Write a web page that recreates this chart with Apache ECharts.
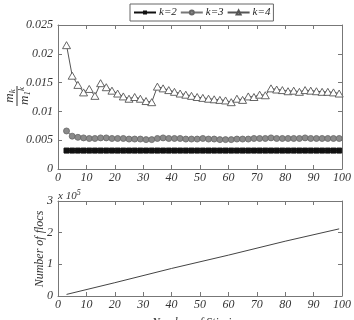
<!DOCTYPE html>
<html><head><meta charset="utf-8">
<script src="https://cdn.jsdelivr.net/npm/echarts@6/dist/echarts.min.js"></script>
<style>html,body{margin:0;padding:0;background:#fff}#c{width:354px;height:320px}</style>
</head><body><div id="c"></div>
<script>
const xs = [3,5,7,9,11,13,15,17,19,21,23,25,27,29,31,33,35,37,39,41,43,45,47,49,51,53,55,57,59,61,63,65,67,69,71,73,75,77,79,81,83,85,87,89,91,93,95,97,99];
const k2 = [0.0032,0.0032,0.0032,0.0032,0.0032,0.0032,0.0032,0.0032,0.0032,0.0032,0.0032,0.0032,0.0032,0.0032,0.0032,0.0032,0.0032,0.0032,0.0032,0.0032,0.0032,0.0032,0.0032,0.0032,0.0032,0.0032,0.0032,0.0032,0.0032,0.0032,0.0032,0.0032,0.0032,0.0032,0.0032,0.0032,0.0032,0.0032,0.0032,0.0032,0.0032,0.0032,0.0032,0.0032,0.0032,0.0032,0.0032,0.0032,0.0032];
const k3 = [0.0066,0.0057,0.0055,0.0054,0.0053,0.0053,0.0054,0.0054,0.0053,0.0053,0.0053,0.0052,0.0052,0.0052,0.0051,0.0051,0.0053,0.0054,0.0053,0.0053,0.0053,0.0052,0.0052,0.0052,0.0053,0.0052,0.0052,0.0051,0.0051,0.0051,0.0052,0.0052,0.0052,0.0053,0.0053,0.0053,0.0054,0.0053,0.0053,0.0053,0.0053,0.0053,0.0054,0.0053,0.0053,0.0053,0.0053,0.0053,0.0053];
const k4 = [0.0215,0.0162,0.0146,0.0133,0.0139,0.0127,0.0149,0.0142,0.0136,0.0131,0.0126,0.0122,0.0125,0.0122,0.0118,0.0116,0.0143,0.0140,0.0137,0.0134,0.0131,0.0129,0.0127,0.0125,0.01235,0.0122,0.0121,0.0120,0.0119,0.0116,0.0122,0.0120,0.0126,0.0125,0.0129,0.0128,0.0140,0.0138,0.0137,0.0135,0.0136,0.0134,0.0137,0.0136,0.0135,0.0134,0.0134,0.0133,0.0131];
const flocX = [3,20,40,60,80,99];
const flocY = [0.05,0.42,0.87,1.29,1.73,2.12];
const seriesNames = ['k=2','k=3','k=4'];
const xLabel = 'Number of Stirrings';
const flocLabel = 'Number of flocs';

const FONT = 'Liberation Serif';
const lab = {fontFamily: FONT, fontStyle: 'italic', fontSize: 12, color: '#333'};
const axisCol = '#777';
function pair(a, b){ return a.map((v,i)=>[v,b[i]]); }

function xAx(gi, main){
  return {type:'value', gridIndex:gi, min:0, max:100, interval:10, position: main?'bottom':'top',
    axisLine:{show:true, onZero:false, lineStyle:{color:axisCol}},
    axisTick:{show:true, inside:true, length:4, lineStyle:{color:axisCol}},
    axisLabel:{show:main, margin:3, ...lab}, splitLine:{show:false}};
}
function yAx(gi, main, max, interval){
  return {type:'value', gridIndex:gi, min:0, max:max, interval:interval, position: main?'left':'right',
    axisLine:{show:true, onZero:false, lineStyle:{color:axisCol}},
    axisTick:{show:true, inside:true, length:4, lineStyle:{color:axisCol}},
    axisLabel:{show:main, margin:5, ...lab, formatter: v => String(+v.toFixed(4))}, splitLine:{show:false}};
}

const chart = echarts.init(document.getElementById('c'), null, {renderer:'canvas'});
chart.setOption({
  animation:false,
  backgroundColor:'#fff',
  grid:[
    {left:58, top:25, width:285, height:144},
    {left:58, top:201, width:285, height:95}
  ],
  legend:{
    left:130, top:4, orient:'horizontal', itemWidth:22, itemHeight:5, itemGap:3,
    padding:[3,3,3,3], borderColor:'#666', borderWidth:1, borderRadius:0, backgroundColor:'#fff',
    textStyle:{...lab, fontSize:11, color:'#222', padding:[0,0,0,-2]}, data:seriesNames
  },
  xAxis:[xAx(0,true), xAx(0,false), xAx(1,true), xAx(1,false)],
  yAxis:[yAx(0,true,0.025,0.005), yAx(0,false,0.025,0.005), yAx(1,true,3,1), yAx(1,false,3,1)],
  series:[
    {name:seriesNames[0], type:'line', xAxisIndex:0, yAxisIndex:0, data:pair(xs,k2),
      symbol:'rect', symbolSize:5, lineStyle:{color:'#111', width:1}, itemStyle:{color:'#111', borderColor:'#111'}},
    {name:seriesNames[1], type:'line', xAxisIndex:0, yAxisIndex:0, data:pair(xs,k3),
      symbol:'circle', symbolSize:6, lineStyle:{color:'#777', width:1}, itemStyle:{color:'#8a8a8a', borderColor:'#666', borderWidth:0.8}},
    {name:seriesNames[2], type:'line', xAxisIndex:0, yAxisIndex:0, data:pair(xs,k4),
      symbol:'triangle', symbolSize:[8,7], lineStyle:{color:'#555', width:1}, itemStyle:{color:'#fff', borderColor:'#555', borderWidth:0.9}},
    {name:'flocs', type:'line', xAxisIndex:2, yAxisIndex:2, data:pair(flocX,flocY),
      symbol:'none', lineStyle:{color:'#444', width:1}}
  ],
  graphic:[
    {type:'group', x:17, y:96, rotation:Math.PI/2, children:[
      {type:'text', x:0, y:-7, style:{text:'m{s|k}', rich:{s:{fontFamily:FONT, fontStyle:'italic', fontSize:9, verticalAlign:'bottom', padding:[6,0,0,0], fill:'#333'}}, fontFamily:FONT, fontStyle:'italic', fontSize:13, fill:'#333', align:'center', verticalAlign:'middle'}},
      {type:'line', shape:{x1:-10, y1:0, x2:10, y2:0}, style:{stroke:'#333', lineWidth:1}},
      {type:'text', x:0, y:8, style:{text:'m{s|1}{p|k}', rich:{s:{fontFamily:FONT, fontStyle:'italic', fontSize:9, padding:[6,0,0,0], fill:'#333'}, p:{fontFamily:FONT, fontStyle:'italic', fontSize:9, padding:[0,0,6,0], fill:'#333'}}, fontFamily:FONT, fontStyle:'italic', fontSize:13, fill:'#333', align:'center', verticalAlign:'middle'}}
    ]},
    {type:'text', left:58, top:189, style:{text:'x 10{p|5}', rich:{p:{fontFamily:FONT, fontStyle:'italic', fontSize:8, padding:[0,0,6,0], fill:'#333'}}, fontFamily:FONT, fontStyle:'italic', fontSize:11, fill:'#333'}},
    {type:'text', x:40, y:249, rotation:Math.PI/2, style:{text:flocLabel, fontFamily:FONT, fontStyle:'italic', fontSize:12, fill:'#333', align:'center', verticalAlign:'middle'}},
    {type:'text', x:200, y:323, style:{text:xLabel, fontFamily:FONT, fontStyle:'italic', fontSize:12, fill:'#333', align:'center', verticalAlign:'middle'}}
  ]
});
</script></body></html>
